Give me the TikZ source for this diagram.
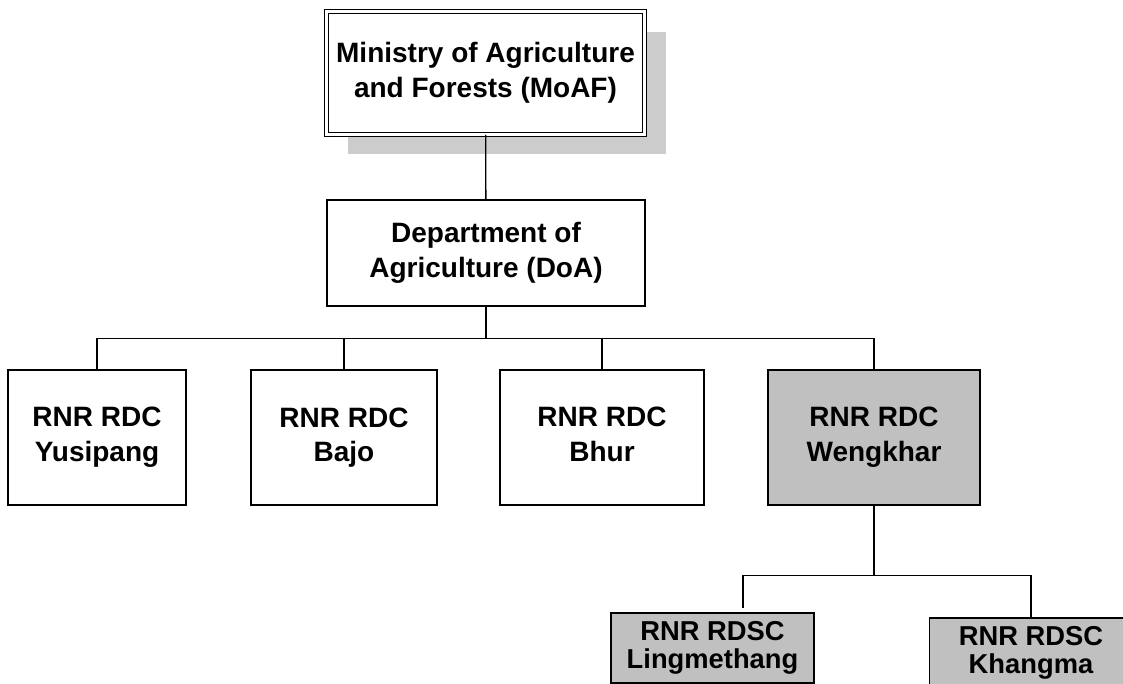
\documentclass[tikz,border=0pt]{standalone}
\usepackage{fontspec}
\setmainfont{Liberation Sans}
\usetikzlibrary{positioning,shadows}

\definecolor{unitgray}{RGB}{192,192,192}
\definecolor{shadowgray}{RGB}{204,204,204}

\begin{document}
\begin{tikzpicture}[
        x=0.75pt, y=-0.75pt,
        unit/.style={rectangle, draw=black, line width=1.1pt, align=center, inner sep=0pt,
            font=\bfseries\fontsize{21}{26}\selectfont},
        headunit/.style={unit, fill=white, line width=0.9pt, double=white, double distance=2.1pt,
            drop shadow={shadow xshift=15.75pt, shadow yshift=-15pt, fill=shadowgray, opacity=1}},
        centre/.style={unit, minimum height=101.25pt},
        station/.style={unit, fill=unitgray, minimum width=152.5pt, minimum height=52.5pt,
            font=\bfseries\fontsize{20.5}{21}\selectfont},
        link/.style={line width=1pt}
    ]
    \useasboundingbox (0,0) rectangle (1123,684);

    \node[headunit, minimum width=238.5pt, minimum height=92pt] (moaf) at (485.5,73) {Ministry of Agriculture\\and Forests (MoAF)};
    \node[unit, minimum width=238.5pt, minimum height=79.5pt] (doa) at (486,253) {Department of\\Agriculture (DoA)};

    \node[centre, minimum width=133.5pt] (yusipang) at (97,437.5) {RNR RDC\\Yusipang};
    \node[centre, minimum width=139.5pt] (bajo) at (344,437.5) {RNR RDC\\Bajo};
    \node[centre, minimum width=153pt] (bhur) at (602,437.5) {RNR RDC\\Bhur\vphantom{g}};
    \node[centre, fill=unitgray, minimum width=159pt] (wengkhar) at (874,437.5) {RNR RDC\\Wengkhar};

    \node[station] (lingmethang) at (712.5,648) {RNR RDSC\\Lingmethang};
    \node[station] (khangma) at (1031,653) {RNR RDSC\\Khangma\vphantom{p}};
    \coordinate (lingdrop) at (743,608);

    \draw[link] (moaf) -- (doa);
    \draw[link] (doa.south) -- ++(0,32) -| (yusipang.north);
    \draw[link] (doa.south) -- ++(0,32) -| (bajo.north);
    \draw[link] (doa.south) -- ++(0,32) -| (bhur.north);
    \draw[link] (doa.south) -- ++(0,32) -| (wengkhar.north);
    \draw[link] (wengkhar.south) -- ++(0,70) -| (lingdrop);
    \draw[link] (wengkhar.south) -- ++(0,70) -| (khangma.north);
\end{tikzpicture}
\end{document}
